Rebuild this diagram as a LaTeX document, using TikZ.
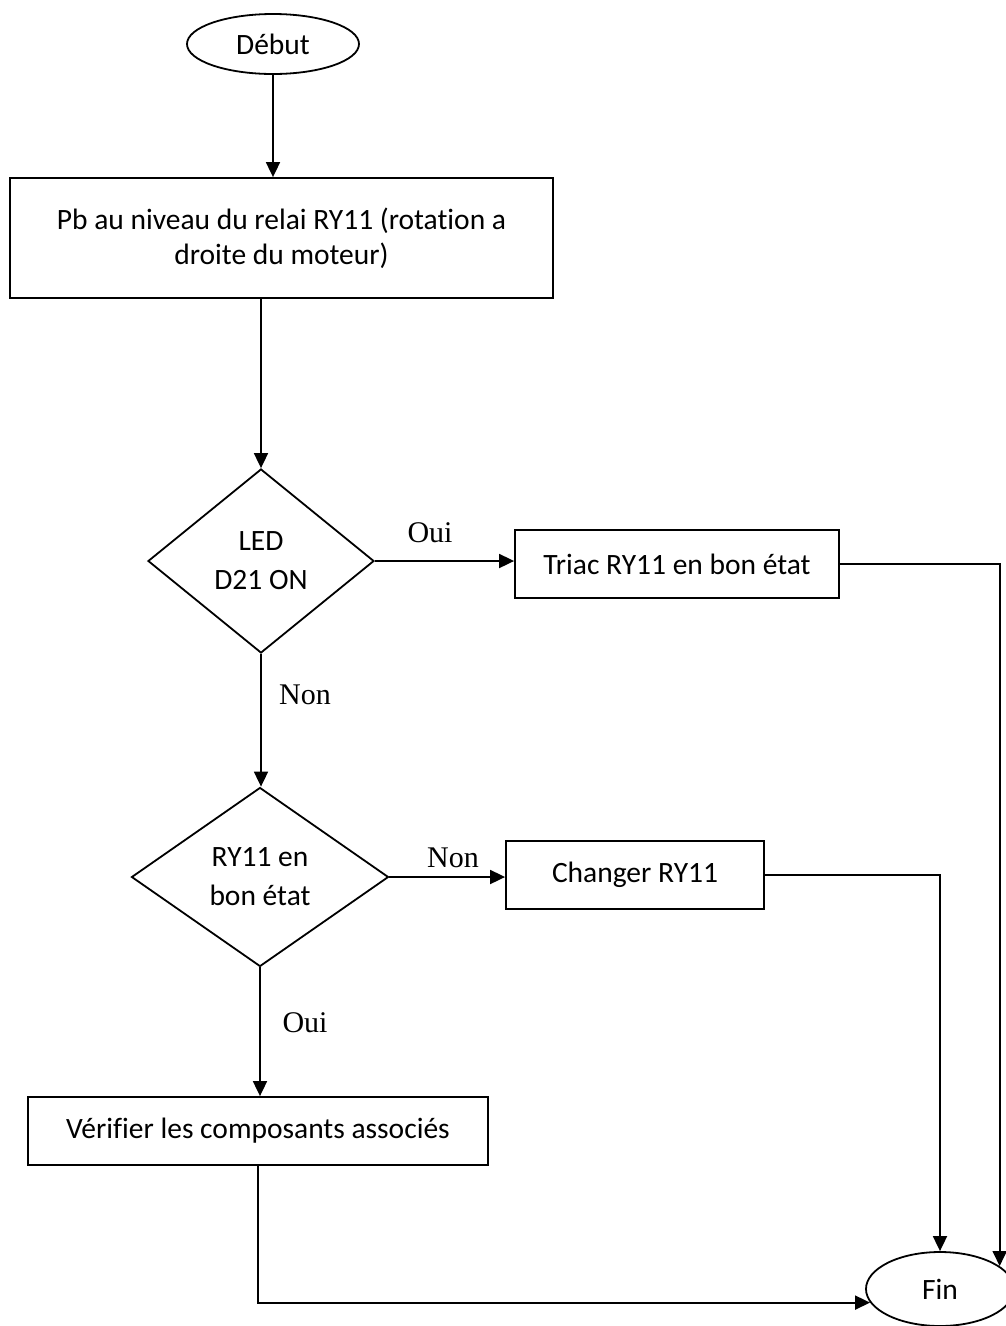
\documentclass[tikz,border=0pt]{standalone}
\usepackage{fontspec}
\setmainfont{Carlito}[Ligatures=NoCommon]
\newfontfamily\labelfont{Liberation Serif}
\usetikzlibrary{shapes.geometric,arrows.meta}

\tikzset{
  base/.style={draw=black, line width=1.8pt, inner sep=0pt, align=center,
    font=\fontsize{29.5}{35}\selectfont},
  term/.style={base, ellipse},
  stepbox/.style={base, rectangle},
  decision/.style={base, diamond, font=\fontsize{29.5}{39}\selectfont},
  flow/.style={line width=1.8pt, -{Triangle[length=15pt,width=14pt]}},
  branch/.style={font=\labelfont\fontsize{30}{36}\selectfont, inner sep=0pt}
}

\begin{document}
\begin{tikzpicture}[x=1pt,y=-1pt]
  \useasboundingbox (0,0) rectangle (1005,1326);
  \fill[white] (0,0) rectangle (1005,1326);

  % nodes
  \node[term, minimum width=172pt, minimum height=60pt] (debut) at (273,44) {Début};
  \node[stepbox, minimum width=543pt, minimum height=120pt] (relai) at (281.5,238)
    {Pb au niveau du relai RY11 (rotation a\\droite du moteur)};
  \node[decision, minimum width=226pt, minimum height=184pt] (led) at (261,561)
    {LED\\D21 ON};
  \node[stepbox, minimum width=324pt, minimum height=68pt] (triac) at (677,564)
    {Triac RY11 en bon état};
  \node[decision, minimum width=257pt, minimum height=179pt] (etat) at (260,877)
    {RY11 en\\bon état};
  \node[stepbox, minimum width=258pt, minimum height=68pt] (changer) at (635,875)
    {Changer RY11};
  \node[stepbox, minimum width=460pt, minimum height=68pt] (verif) at (258,1131)
    {Vérifier les composants associés};
  \node[term, minimum width=148pt, minimum height=74pt] (fin) at (940,1289) {Fin};

  % branch labels
  \node[branch] (oui1) at (430,533) {Oui};
  \node[branch] (non1) at (305,695) {Non};
  \node[branch] (non2) at (453,858) {Non};
  \node[branch] (oui2) at (305,1023) {Oui};

  % connectors
  \draw[flow] (debut.south) -- (debut.south |- relai.north);
  \draw[flow] (relai.south -| led.north) -- (led.north);
  \draw[flow] (led.east) -- (led.east -| triac.west);
  \draw[flow] (led.south) -- (led.south |- etat.north);
  \draw[flow] (etat.east) -- (etat.east -| changer.west);
  \draw[flow] (etat.south) -- (etat.south |- verif.north);
  \draw[flow] (triac.east) -| (fin.21.6);
  \draw[flow] (changer.east) -| (fin.north);
  \draw[flow] (verif.south) |- (fin.191.5);
\end{tikzpicture}
\end{document}
